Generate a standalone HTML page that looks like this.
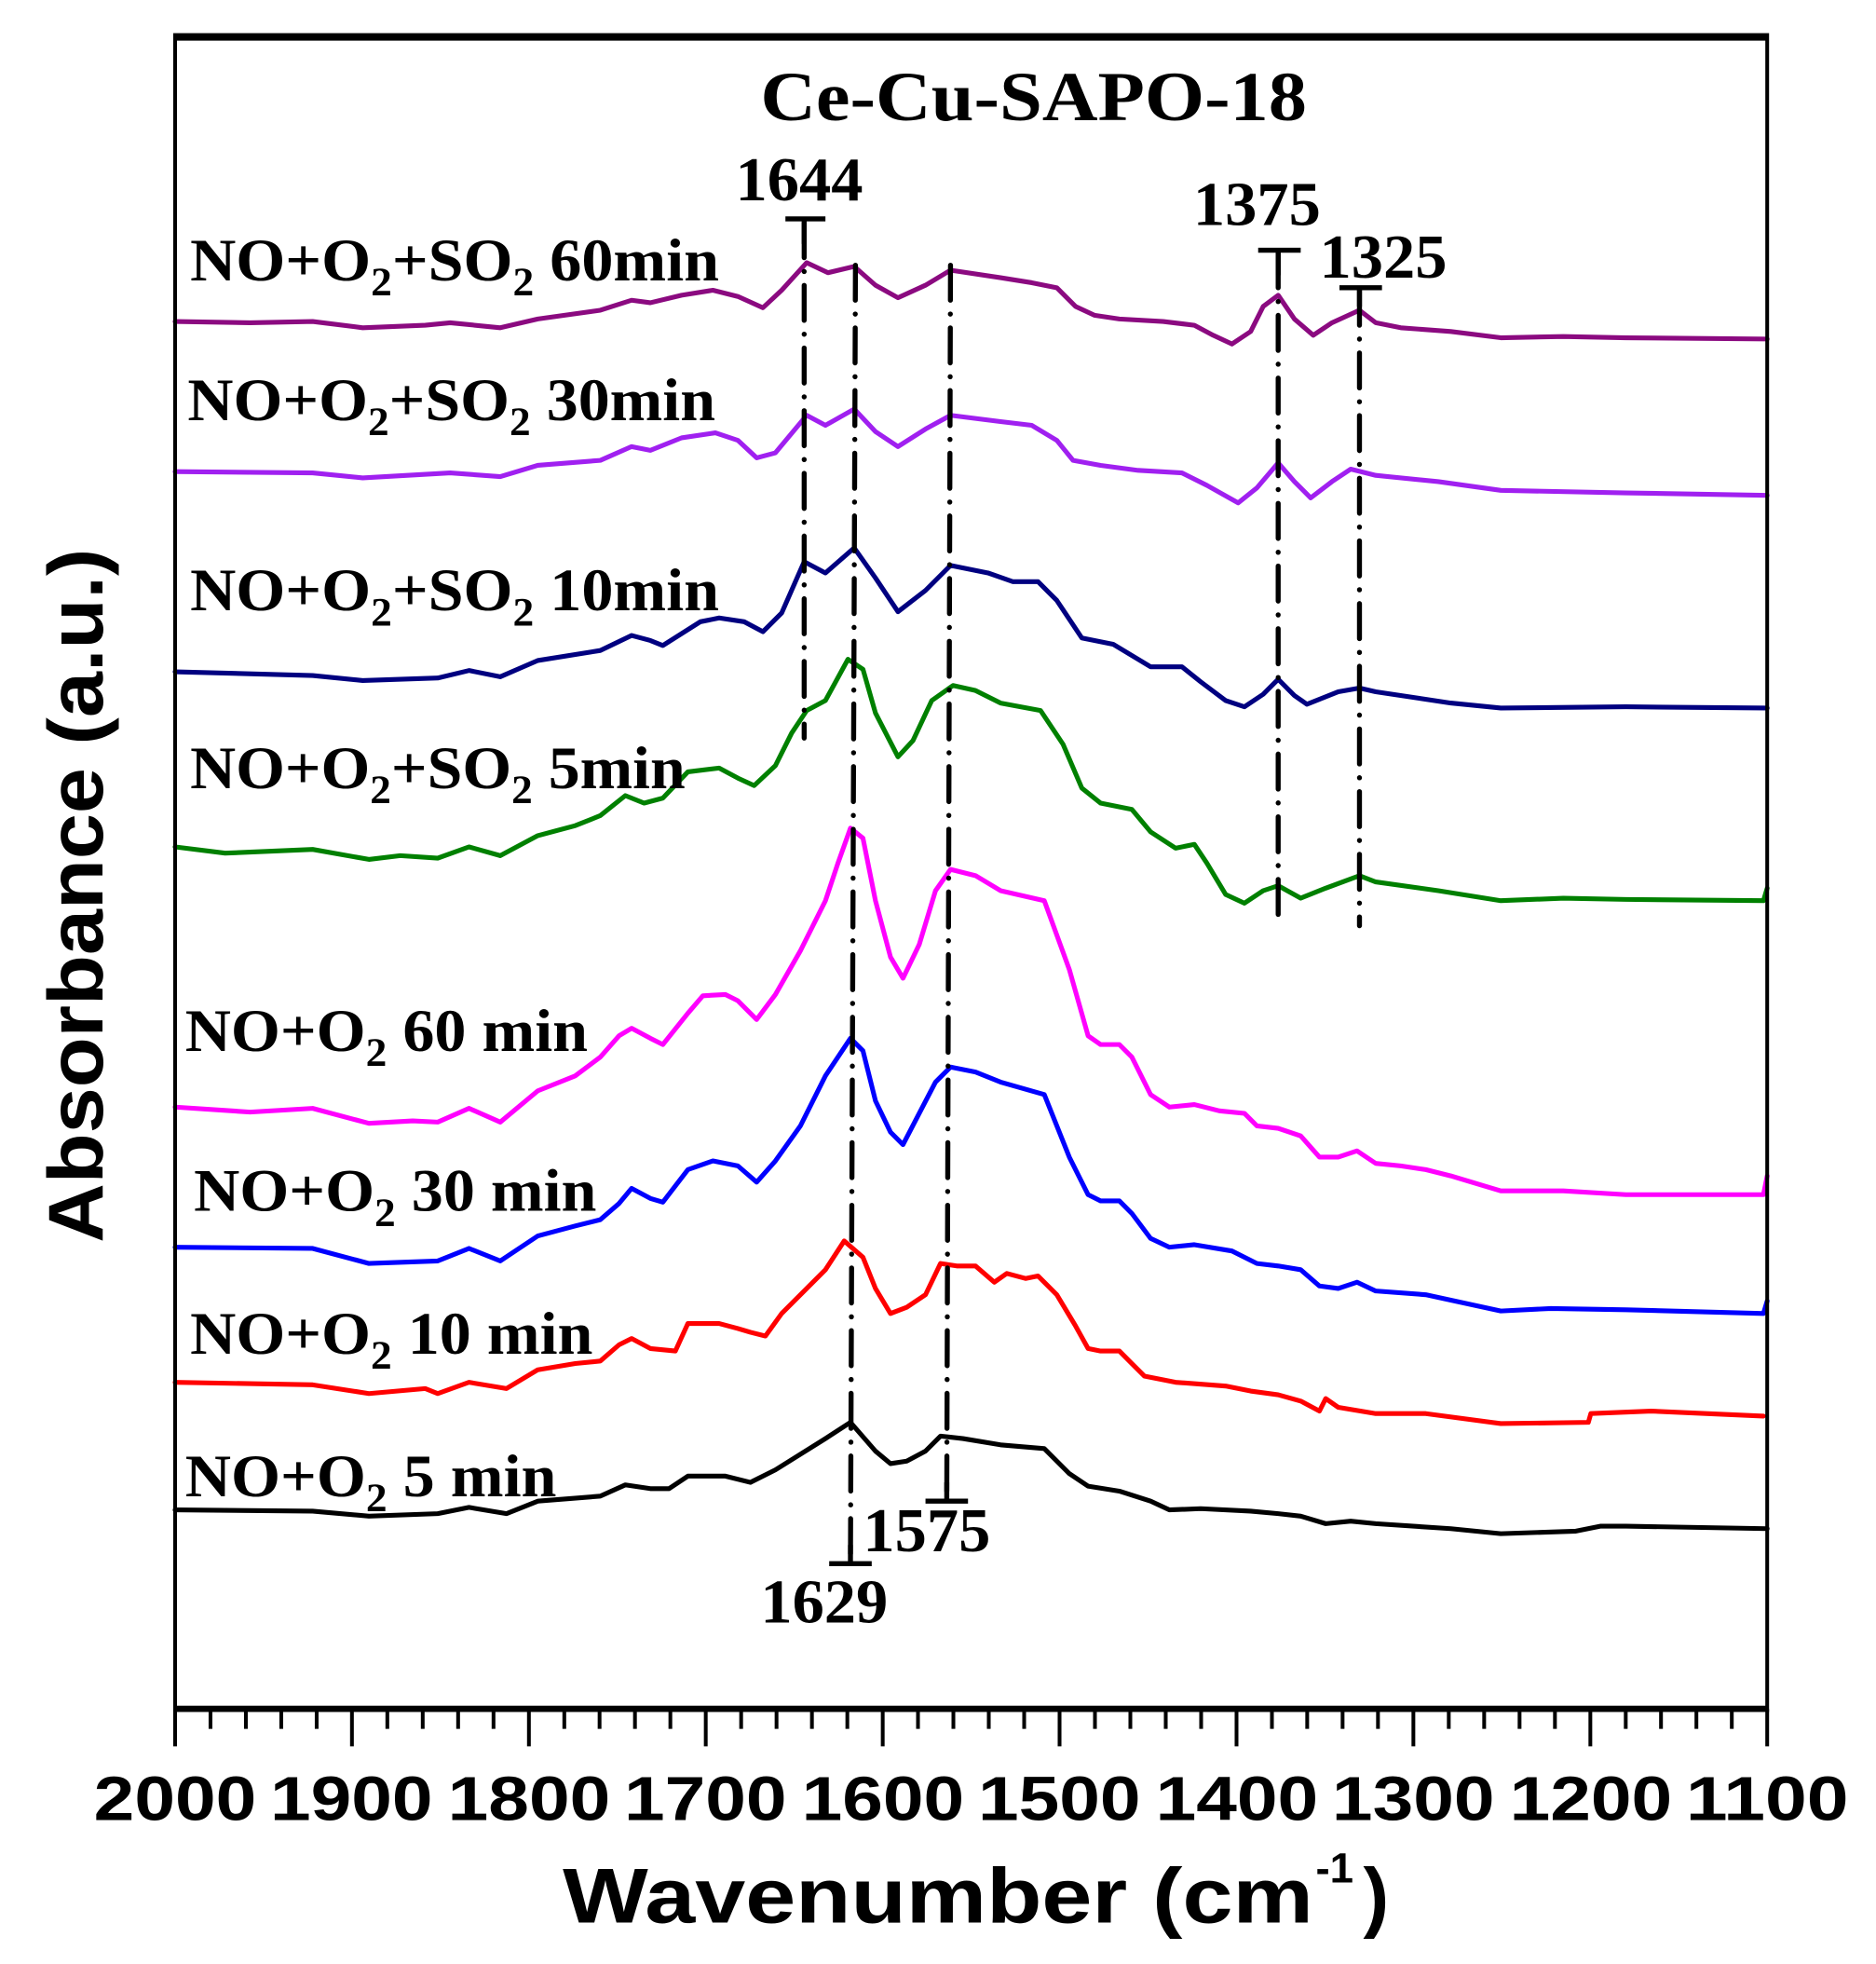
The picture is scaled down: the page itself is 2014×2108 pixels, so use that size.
<!DOCTYPE html>
<html><head><meta charset="utf-8"><style>html,body{margin:0;padding:0;background:#fff}svg{display:block}</style></head>
<body>
<svg width="2014" height="2108" viewBox="0 0 1500 1570" xmlns="http://www.w3.org/2000/svg">
<rect width="1500" height="1570" fill="#fff"/>
<g fill="none" stroke-width="3.8" stroke-linejoin="round" stroke-linecap="round">
<polyline stroke="#8b0a80" points="140,257 200,258 250,257 290,262 340,260 360,258 400,262 430,255 480,248 505,240 520,242 545,236 570,232 590,237 610,246 625,232 645,210 662,218 683,213 700,228 718,238 740,228 760,216 800,222 825,226 845,230 860,245 875,252 895,255 930,257 955,260 970,268 985,275 1000,265 1010,245 1022,236 1035,255 1050,268 1065,258 1087,248 1100,258 1120,262 1160,265 1200,270 1250,269 1300,270 1413,271"/>
<polyline stroke="#a020f0" points="140,377 250,378 290,382 360,378 400,381 430,372 480,368 505,357 520,360 545,350 572,346 590,352 605,366 620,362 645,332 660,340 683,327 700,345 718,357 740,343 760,332 800,337 825,340 845,352 858,368 880,372 910,376 945,378 965,388 990,402 1005,390 1022,370 1035,385 1048,398 1065,385 1080,375 1100,380 1150,385 1200,392 1300,394 1413,396"/>
<polyline stroke="#000080" points="140,537 250,540 290,544 350,542 375,536 400,541 430,528 480,520 505,508 520,512 530,516 560,497 575,494 595,497 610,505 625,490 643,449 660,458 683,438 700,462 718,489 740,472 760,452 790,458 810,465 830,465 845,480 865,510 890,515 920,533 945,533 960,545 980,560 995,565 1010,555 1022,543 1035,556 1045,563 1070,553 1087,550 1100,553 1160,562 1200,566 1300,565 1413,566"/>
<polyline stroke="#008000" points="140,677 180,682 250,679 295,687 320,684 350,686 375,677 400,684 430,668 460,660 480,652 500,636 515,642 530,638 550,617 575,614 590,622 603,628 620,612 633,586 645,568 660,560 678,527 690,535 700,570 718,605 730,592 745,560 762,548 780,552 800,562 832,568 850,595 865,630 880,642 905,647 920,665 940,678 955,675 965,690 980,715 995,722 1010,712 1022,708 1040,718 1060,710 1087,700 1100,705 1150,712 1200,720 1250,718 1300,719 1410,720 1413,710"/>
<polyline stroke="#ff00ff" points="140,885 200,889 250,886 295,898 330,896 350,897 375,886 400,897 430,872 460,860 480,845 495,828 505,822 520,830 530,835 550,810 562,796 580,795 590,800 605,815 620,795 640,760 660,720 670,690 680,662 690,670 700,720 712,765 722,782 735,755 748,712 760,695 780,700 800,712 835,720 855,775 870,828 880,835 895,835 905,845 920,875 935,885 955,883 975,888 995,890 1005,900 1022,902 1040,908 1055,925 1070,925 1085,920 1100,930 1120,932 1140,935 1160,940 1200,952 1250,952 1300,955 1410,955 1413,940"/>
<polyline stroke="#0000ff" points="140,997 250,998 295,1010 350,1008 375,998 400,1008 430,988 460,980 480,975 495,962 505,950 520,958 530,961 550,935 570,928 590,932 605,945 620,928 640,900 660,860 680,830 690,840 700,880 712,905 722,915 735,890 748,865 760,853 780,857 800,865 835,875 855,925 870,955 880,960 895,960 905,970 920,990 935,997 955,995 985,1000 1005,1010 1022,1012 1040,1015 1055,1028 1070,1030 1085,1025 1100,1032 1140,1035 1200,1048 1240,1046 1300,1047 1410,1050 1413,1040"/>
<polyline stroke="#ff0000" points="140,1105 250,1107 295,1114 340,1110 350,1114 375,1105 405,1110 430,1095 460,1090 480,1088 495,1075 505,1070 520,1078 540,1080 550,1058 575,1058 590,1062 600,1065 612,1068 625,1050 660,1015 675,992 690,1005 700,1030 712,1050 725,1045 740,1035 752,1010 765,1012 780,1012 795,1025 805,1018 820,1022 830,1020 845,1035 860,1060 870,1078 880,1080 895,1080 905,1090 915,1100 940,1105 980,1108 1000,1112 1022,1115 1040,1120 1055,1128 1060,1118 1070,1125 1100,1130 1140,1130 1200,1138 1270,1137 1272,1130 1320,1128 1410,1132"/>
<polyline stroke="#000000" points="140,1207 250,1208 295,1212 350,1210 375,1205 405,1210 430,1200 480,1196 500,1187 520,1190 535,1190 550,1180 580,1180 600,1185 620,1175 660,1150 680,1137 700,1160 712,1170 725,1168 740,1160 752,1148 770,1150 800,1155 835,1158 855,1178 870,1188 895,1192 920,1200 935,1207 960,1206 1000,1208 1022,1210 1040,1212 1060,1218 1080,1216 1100,1218 1160,1222 1200,1226 1260,1224 1280,1220 1300,1220 1413,1222"/>
</g>
<g stroke="#000" stroke-width="4" stroke-linecap="round" fill="none" stroke-dasharray="28 11 0.1 11">
<line x1="643" y1="178" x2="643" y2="590"/>
<line x1="684" y1="212" x2="680" y2="1250"/>
<line x1="760" y1="212" x2="757" y2="1200"/>
<line x1="1022" y1="202" x2="1022" y2="740"/>
<line x1="1087" y1="232" x2="1087" y2="740"/>
</g>
<g stroke="#000" stroke-width="4">
<line x1="628" y1="175" x2="660" y2="175"/><line x1="643" y1="175" x2="643" y2="195"/>
<line x1="1006" y1="200" x2="1040" y2="200"/><line x1="1022" y1="200" x2="1022" y2="220"/>
<line x1="1071" y1="230" x2="1105" y2="230"/><line x1="1087" y1="230" x2="1087" y2="245"/>
<line x1="740" y1="1200" x2="774" y2="1200"/><line x1="757" y1="1185" x2="757" y2="1200"/>
<line x1="663" y1="1250" x2="697" y2="1250"/><line x1="680" y1="1235" x2="680" y2="1250"/>
</g>
<g font-family="Liberation Serif, serif" font-weight="bold" fill="#000">
<text x="608" y="96" font-size="56" textLength="437" lengthAdjust="spacingAndGlyphs">Ce-Cu-SAPO-18</text>
<g font-size="50">
<text x="588" y="160" textLength="102" lengthAdjust="spacingAndGlyphs">1644</text>
<text x="954" y="180" textLength="102" lengthAdjust="spacingAndGlyphs">1375</text>
<text x="1055" y="222" textLength="102" lengthAdjust="spacingAndGlyphs">1325</text>
<text x="690" y="1240" textLength="102" lengthAdjust="spacingAndGlyphs">1575</text>
<text x="608" y="1297" textLength="102" lengthAdjust="spacingAndGlyphs">1629</text>
</g>
<g font-size="48">
<text x="152" y="224" textLength="423" lengthAdjust="spacingAndGlyphs">NO+O<tspan font-size="32" dy="12">2</tspan><tspan dy="-12">+SO</tspan><tspan font-size="32" dy="12">2</tspan><tspan dy="-12"> 60min</tspan></text>
<text x="150" y="336" textLength="422" lengthAdjust="spacingAndGlyphs">NO+O<tspan font-size="32" dy="12">2</tspan><tspan dy="-12">+SO</tspan><tspan font-size="32" dy="12">2</tspan><tspan dy="-12"> 30min</tspan></text>
<text x="152" y="488" textLength="423" lengthAdjust="spacingAndGlyphs">NO+O<tspan font-size="32" dy="12">2</tspan><tspan dy="-12">+SO</tspan><tspan font-size="32" dy="12">2</tspan><tspan dy="-12"> 10min</tspan></text>
<text x="152" y="630" textLength="396" lengthAdjust="spacingAndGlyphs">NO+O<tspan font-size="32" dy="12">2</tspan><tspan dy="-12">+SO</tspan><tspan font-size="32" dy="12">2</tspan><tspan dy="-12"> 5min</tspan></text>
<text x="148" y="840" textLength="322" lengthAdjust="spacingAndGlyphs">NO+O<tspan font-size="32" dy="12">2</tspan><tspan dy="-12"> 60 min</tspan></text>
<text x="155" y="968" textLength="322" lengthAdjust="spacingAndGlyphs">NO+O<tspan font-size="32" dy="12">2</tspan><tspan dy="-12"> 30 min</tspan></text>
<text x="152" y="1082" textLength="322" lengthAdjust="spacingAndGlyphs">NO+O<tspan font-size="32" dy="12">2</tspan><tspan dy="-12"> 10 min</tspan></text>
<text x="148" y="1196" textLength="297" lengthAdjust="spacingAndGlyphs">NO+O<tspan font-size="32" dy="12">2</tspan><tspan dy="-12"> 5 min</tspan></text>
</g>
</g>
<rect x="140" y="28" width="1273" height="1339" fill="none" stroke="#000" stroke-width="3"/>
<line x1="140" y1="30" x2="1413" y2="30" stroke="#000" stroke-width="5"/>
<line x1="140" y1="1366" x2="1413" y2="1366" stroke="#000" stroke-width="5"/>
<g stroke="#000" stroke-width="3">
<path d="M140 1366V1396M281.4 1366V1396M422.9 1366V1396M564.3 1366V1396M705.8 1366V1396M847.2 1366V1396M988.7 1366V1396M1130.1 1366V1396M1271.6 1366V1396M1413 1366V1396"/>
<path d="M168.3 1366V1382M196.6 1366V1382M224.9 1366V1382M253.2 1366V1382M309.7 1366V1382M338 1366V1382M366.3 1366V1382M394.6 1366V1382M451.2 1366V1382M479.4 1366V1382M507.7 1366V1382M536 1366V1382M592.6 1366V1382M620.9 1366V1382M649.2 1366V1382M677.5 1366V1382M734 1366V1382M762.3 1366V1382M790.6 1366V1382M818.9 1366V1382M875.5 1366V1382M903.8 1366V1382M932.1 1366V1382M960.4 1366V1382M1017 1366V1382M1045.2 1366V1382M1073.5 1366V1382M1101.8 1366V1382M1158.4 1366V1382M1186.7 1366V1382M1215 1366V1382M1243.3 1366V1382M1299.9 1366V1382M1328.1 1366V1382M1356.4 1366V1382M1384.7 1366V1382"/>
</g>
<g font-family="Liberation Sans, sans-serif" font-weight="bold" font-size="50" text-anchor="middle">
<text x="140" y="1455" textLength="130" lengthAdjust="spacingAndGlyphs">2000</text>
<text x="281" y="1455" textLength="130" lengthAdjust="spacingAndGlyphs">1900</text>
<text x="423" y="1455" textLength="130" lengthAdjust="spacingAndGlyphs">1800</text>
<text x="564" y="1455" textLength="130" lengthAdjust="spacingAndGlyphs">1700</text>
<text x="706" y="1455" textLength="130" lengthAdjust="spacingAndGlyphs">1600</text>
<text x="847" y="1455" textLength="130" lengthAdjust="spacingAndGlyphs">1500</text>
<text x="989" y="1455" textLength="130" lengthAdjust="spacingAndGlyphs">1400</text>
<text x="1130" y="1455" textLength="130" lengthAdjust="spacingAndGlyphs">1300</text>
<text x="1272" y="1455" textLength="130" lengthAdjust="spacingAndGlyphs">1200</text>
<text x="1413" y="1455" textLength="130" lengthAdjust="spacingAndGlyphs">1100</text>
</g>
<text x="450" y="1537" font-family="Liberation Sans, sans-serif" font-weight="bold" font-size="62" textLength="600" lengthAdjust="spacingAndGlyphs">Wavenumber (cm</text>
<text x="1052" y="1505" font-family="Liberation Sans, sans-serif" font-weight="bold" font-size="34">-1</text>
<text x="1090" y="1537" font-family="Liberation Sans, sans-serif" font-weight="bold" font-size="62">)</text>
<text transform="translate(82,716) rotate(-90)" font-family="Liberation Sans, sans-serif" font-weight="bold" font-size="62" text-anchor="middle" textLength="555" lengthAdjust="spacingAndGlyphs">Absorbance (a.u.)</text>
</svg>
</body></html>
